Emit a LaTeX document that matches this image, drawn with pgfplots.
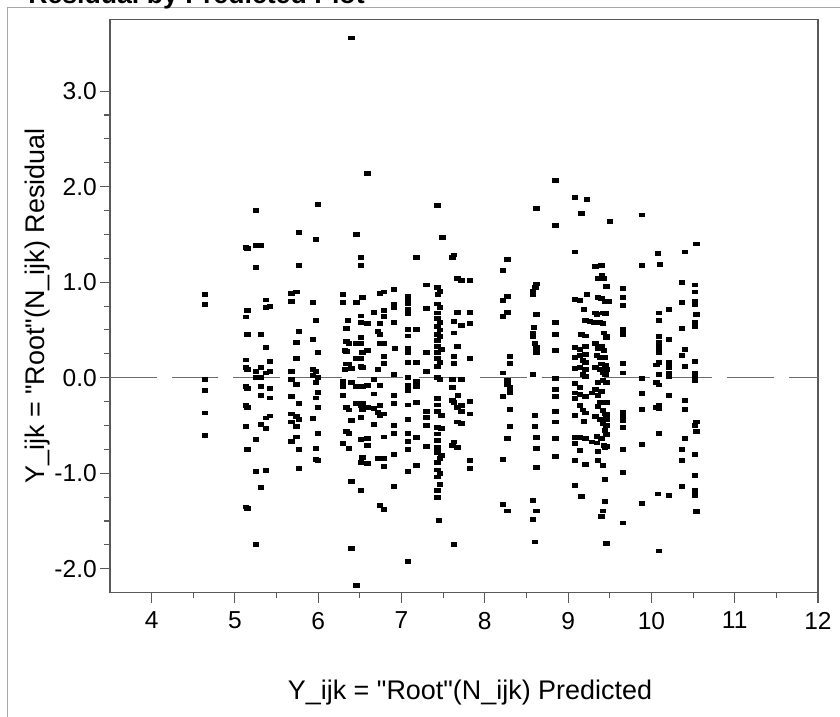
\documentclass[border=0pt]{standalone}
\usepackage{fontspec}
\setmainfont{Liberation Sans}[Ligatures=TeXOff]
\usepackage{pgfplots}
\pgfplotsset{compat=1.18}
\usepackage{xcolor}
\definecolor{axisgray}{HTML}{5A5A5A}
\definecolor{framegray}{HTML}{A8A8A8}
\definecolor{zeroblue}{HTML}{5A5AFF}

\pgfplotstableread{
x y
4.64 0.867
4.64 0.768
4.64 -0.015
4.64 -0.133
4.64 -0.369
4.64 -0.601
5.25 1.753
5.13 1.361
5.15 1.350
5.25 1.388
5.31 1.388
5.25 1.156
5.37 0.813
5.37 0.734
5.42 0.749
5.15 0.700
5.13 0.635
5.15 0.449
5.31 0.449
5.37 0.319
5.13 0.186
5.42 0.167
5.13 0.103
5.15 0.087
5.25 0.068
5.31 0.103
5.37 0.049
5.42 0.068
5.31 0.004
5.25 0.004
5.13 -0.095
5.15 -0.114
5.31 -0.095
5.42 -0.114
5.31 -0.186
5.42 -0.213
5.13 -0.293
5.15 -0.312
5.42 -0.401
5.37 -0.422
5.31 -0.487
5.37 -0.529
5.13 -0.513
5.25 -0.650
5.15 -0.749
5.25 -0.985
5.37 -0.970
5.31 -1.148
5.13 -1.354
5.15 -1.369
5.25 -1.749
5.77 1.521
5.77 1.171
5.74 0.897
5.68 0.882
5.68 0.802
5.77 0.487
5.74 0.365
5.74 0.205
5.68 0.068
5.68 -0.015
5.74 -0.068
5.68 -0.201
5.77 -0.266
5.68 -0.380
5.74 -0.407
5.77 -0.441
5.68 -0.464
5.74 -0.513
5.74 -0.620
5.68 -0.665
5.77 -0.749
5.77 -0.947
6.00 1.817
5.97 1.449
5.94 0.783
5.97 0.601
5.94 0.403
6.00 0.266
5.94 0.087
5.97 0.068
5.94 0.023
6.00 0.004
5.97 -0.046
6.00 -0.152
5.97 -0.213
6.00 -0.312
5.94 -0.426
6.00 -0.586
5.97 -0.745
5.97 -0.856
6.00 -0.863
6.40 3.556
6.59 2.140
6.46 1.502
6.51 1.255
6.51 1.171
6.30 0.867
6.30 0.783
6.46 0.783
6.53 0.840
6.74 0.886
6.79 0.897
6.91 0.920
6.91 0.772
6.91 0.734
6.79 0.707
6.79 0.639
6.67 0.684
6.36 0.601
6.51 0.646
6.51 0.582
6.59 0.563
6.74 0.563
6.91 0.582
6.34 0.517
6.72 0.487
6.74 0.449
6.51 0.422
6.34 0.380
6.37 0.361
6.46 0.354
6.51 0.354
6.74 0.354
6.79 0.354
6.92 0.304
6.32 0.289
6.34 0.278
6.59 0.289
6.53 0.266
6.79 0.221
6.46 0.202
6.51 0.202
6.79 0.152
6.34 0.144
6.37 0.144
6.51 0.114
6.53 0.106
6.32 0.087
6.40 0.099
6.72 0.087
6.91 0.030
6.67 -0.019
6.30 -0.038
6.40 -0.053
6.30 -0.095
6.46 -0.095
6.53 -0.095
6.59 -0.080
6.74 -0.084
6.30 -0.183
6.91 -0.183
6.67 -0.171
6.46 -0.266
6.53 -0.266
6.51 -0.293
6.91 -0.266
6.59 -0.312
6.67 -0.323
6.74 -0.293
6.34 -0.312
6.37 -0.338
6.53 -0.338
6.72 -0.361
6.74 -0.399
6.79 -0.380
6.40 -0.445
6.51 -0.418
6.67 -0.487
6.91 -0.502
6.91 -0.586
6.34 -0.567
6.37 -0.586
6.79 -0.620
6.51 -0.646
6.59 -0.635
6.59 -0.711
6.30 -0.692
6.37 -0.741
6.91 -0.806
6.53 -0.833
6.59 -0.894
6.51 -0.890
6.72 -0.844
6.79 -0.844
6.79 -0.928
6.40 -1.084
6.91 -1.137
6.51 -1.179
6.74 -1.338
6.79 -1.384
6.40 -1.787
6.46 -2.175
7.43 1.806
7.49 1.471
7.18 1.255
7.63 1.285
7.61 1.255
7.30 0.970
7.67 1.038
7.72 1.019
7.82 1.019
7.43 0.943
7.46 0.905
7.44 0.867
7.08 0.848
7.08 0.810
7.08 0.772
7.08 0.715
7.08 0.669
7.43 0.772
7.46 0.734
7.43 0.677
7.30 0.722
7.67 0.684
7.82 0.684
7.82 0.570
7.63 0.589
7.72 0.544
7.43 0.620
7.46 0.580
7.43 0.540
7.46 0.500
7.43 0.450
7.46 0.430
7.43 0.390
7.08 0.506
7.08 0.437
7.18 0.506
7.63 0.468
7.67 0.323
7.43 0.323
7.48 0.297
7.43 0.266
7.08 0.304
7.08 0.266
7.30 0.266
7.18 0.163
7.08 0.163
7.82 0.202
7.63 0.221
7.63 0.152
7.43 0.202
7.46 0.163
7.43 0.118
7.30 0.068
7.08 0.004
7.43 0.000
7.46 -0.019
7.61 -0.019
7.72 -0.019
7.08 -0.084
7.08 -0.133
7.18 -0.095
7.18 -0.038
7.61 -0.103
7.68 -0.186
7.43 -0.217
7.61 -0.236
7.63 -0.255
7.82 -0.251
7.18 -0.255
7.08 -0.285
7.67 -0.312
7.72 -0.293
7.72 -0.350
7.43 -0.285
7.43 -0.350
7.48 -0.399
7.30 -0.350
7.30 -0.418
7.30 -0.502
7.82 -0.380
7.08 -0.433
7.67 -0.464
7.72 -0.483
7.43 -0.521
7.48 -0.529
7.43 -0.589
7.43 -0.654
7.08 -0.586
7.08 -0.665
7.08 -0.749
7.18 -0.624
7.30 -0.719
7.63 -0.673
7.61 -0.711
7.67 -0.730
7.43 -0.730
7.43 -0.787
7.46 -0.844
7.43 -0.890
7.48 -0.817
7.82 -0.863
7.82 -0.947
7.18 -0.920
7.08 -0.985
7.43 -0.966
7.46 -1.004
7.43 -1.040
7.46 -1.118
7.43 -1.179
7.43 -1.255
7.45 -1.498
7.63 -1.749
7.08 -1.928
8.27 1.236
8.22 1.122
8.27 0.848
8.22 0.810
8.27 0.684
8.22 0.639
8.30 0.221
8.30 0.152
8.22 0.049
8.27 -0.027
8.27 -0.076
8.30 -0.103
8.30 -0.152
8.22 -0.198
8.30 -0.331
8.30 -0.513
8.27 -0.635
8.22 -0.852
8.22 -1.331
8.27 -1.395
8.62 1.772
8.62 0.981
8.61 0.943
8.58 0.905
8.58 0.867
8.62 0.665
8.59 0.525
8.58 0.468
8.58 0.430
8.60 0.354
8.62 0.316
8.62 0.266
8.58 0.030
8.60 -0.399
8.60 -0.513
8.62 -0.624
8.62 -0.738
8.62 -0.939
8.58 -1.285
8.62 -1.395
8.58 -1.483
8.60 -1.719
8.85 2.065
8.85 1.589
8.85 0.582
8.85 0.449
8.85 0.285
8.85 -0.008
8.85 -0.122
8.85 -0.198
8.85 -0.350
8.85 -0.464
8.85 -0.635
8.85 -0.825
9.08 1.886
9.23 1.867
9.16 1.722
9.08 1.316
9.08 0.821
9.14 0.810
9.23 0.867
9.19 0.715
9.21 0.601
9.16 0.449
9.21 0.437
9.08 0.316
9.14 0.297
9.21 0.323
9.14 0.232
9.21 0.247
9.08 0.209
9.18 0.183
9.21 0.156
9.08 0.099
9.14 0.106
9.21 0.087
9.18 0.030
9.21 0.011
9.08 -0.065
9.14 -0.103
9.08 -0.160
9.08 -0.217
9.14 -0.179
9.21 -0.198
9.14 -0.293
9.18 -0.338
9.21 -0.369
9.08 -0.399
9.19 -0.456
9.08 -0.627
9.14 -0.624
9.21 -0.635
9.08 -0.692
9.14 -0.760
9.21 -0.909
9.08 -0.863
9.08 -1.129
9.16 -1.243
9.50 1.635
9.89 1.703
10.08 1.304
10.10 1.186
9.89 1.171
9.33 1.160
9.40 1.171
9.36 1.038
9.41 1.068
9.43 1.038
9.46 0.954
9.66 0.935
9.66 0.840
9.66 0.753
9.36 0.840
9.40 0.829
9.45 0.802
9.49 0.802
9.33 0.677
9.35 0.658
9.42 0.677
9.45 0.669
9.26 0.589
9.31 0.574
9.38 0.574
9.42 0.563
10.21 0.715
10.09 0.677
10.09 0.601
9.66 0.506
9.66 0.449
9.43 0.468
9.46 0.437
9.46 0.422
10.09 0.430
10.09 0.373
10.09 0.335
10.09 0.297
10.09 0.259
10.21 0.403
9.33 0.354
9.36 0.304
9.40 0.327
9.43 0.289
9.35 0.232
9.38 0.209
9.44 0.213
9.40 0.144
9.45 0.125
9.46 0.087
9.66 0.152
9.66 0.049
9.33 0.106
9.38 0.087
10.09 0.163
10.06 0.133
10.21 0.163
10.21 0.106
10.21 0.049
10.21 0.011
9.42 0.049
9.45 0.030
9.46 -0.046
10.09 0.030
10.06 -0.046
10.09 -0.076
9.89 -0.008
9.36 -0.046
9.42 -0.027
9.33 -0.122
9.40 -0.141
9.29 -0.160
9.36 -0.186
9.89 -0.167
10.21 -0.183
9.46 -0.262
9.38 -0.255
9.36 -0.300
9.89 -0.331
10.09 -0.293
10.06 -0.312
10.09 -0.323
9.42 -0.342
9.44 -0.380
9.46 -0.388
9.46 -0.437
9.66 -0.361
9.66 -0.407
9.66 -0.452
9.66 -0.521
9.33 -0.407
9.38 -0.437
9.42 -0.483
9.46 -0.502
10.09 -0.586
9.44 -0.551
9.46 -0.597
9.35 -0.616
9.40 -0.635
9.29 -0.673
9.35 -0.684
9.43 -0.711
9.46 -0.719
9.44 -0.730
9.36 -0.768
9.66 -0.749
9.89 -0.703
9.36 -0.863
9.42 -0.920
9.66 -0.989
9.44 -1.065
10.08 -1.217
10.21 -1.232
9.44 -1.300
9.42 -1.395
9.40 -1.452
9.89 -1.319
9.66 -1.521
9.46 -1.738
10.09 -1.814
10.40 1.316
10.37 1.000
10.37 0.783
10.37 0.517
10.40 0.297
10.37 0.232
10.40 0.118
10.40 -0.236
10.40 -0.331
10.40 -0.635
10.37 -0.749
10.37 -0.863
10.37 -1.137
10.54 1.399
10.52 0.970
10.52 0.897
10.52 0.802
10.52 0.764
10.54 0.665
10.52 0.582
10.52 0.532
10.52 0.171
10.52 0.042
10.52 0.004
10.52 -0.027
10.54 -0.464
10.52 -0.502
10.54 -0.567
10.52 -0.806
10.52 -1.023
10.52 -1.179
10.52 -1.236
10.54 -1.403
}\resid

\begin{document}
\begin{tikzpicture}
\path[use as bounding box, clip] (0,0) rectangle (630pt,537.75pt);
\fill[white] (0,0) rectangle (630pt,537.75pt);
% outer report frame, cut by the page edge
\draw[framegray, line width=0.75pt] (5.25pt,-5pt) -- (5.25pt,532.3pt) -- (640pt,532.3pt);
\node[anchor=base west, inner sep=0pt, font=\bfseries\fontsize{20}{24}\selectfont] at (21pt,534.8pt) {Residual by Predicted Plot};
\begin{axis}[
  at={(82.5pt,93.25pt)}, anchor=south west,
  scale only axis, width=531pt, height=429.9pt,
  xmin=3.5, xmax=12, ymin=-2.25, ymax=3.75,
  xtick={4,5,6,7,8,9,10,11,12},
  ytick={-2,-1,0,1,2,3},
  yticklabels={-2.0,-1.0,0.0,1.0,2.0,3.0},
  minor x tick num=1, minor y tick num=3,
  tick pos=left, tick align=outside,
  major tick length=7.5pt, minor tick length=4.2pt,
  tick style={axisgray, line width=0.8pt},
  axis line style={axisgray, line width=1pt},
  /pgf/number format/assume math mode=true,
  tick label style={font=\fontsize{18.4}{22}\selectfont, inner sep=0pt},
  xticklabel style={anchor=north, yshift=-6.75pt},
  yticklabel style={anchor=east, xshift=-2.25pt},
  xlabel={Y\_ijk = "Root"(N\_ijk) Predicted},
  ylabel={Y\_ijk = "Root"(N\_ijk) Residual},
  label style={font=\fontsize{20.2}{24}\selectfont, inner sep=0pt},
  xlabel style={at={([xshift=4.5pt]axis description cs:0.5,0)}, anchor=base, yshift=-80.5pt},
  ylabel style={at={([xshift=-48.75pt]axis description cs:0,0.5)}, anchor=base},
]
\addplot[only marks, mark=square*, mark size=1.45pt,
  mark options={black, fill=black, xscale=1.4, line width=0pt}] table {\resid};
\addplot[zeroblue, line width=1.1pt, dash pattern=on 34.9pt off 11.4pt] coordinates {(3.5,0) (12,0)};
\end{axis}
\end{tikzpicture}
\end{document}
